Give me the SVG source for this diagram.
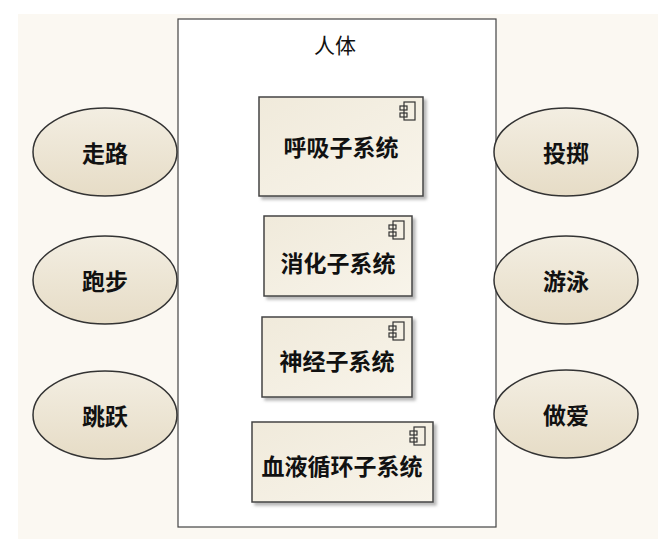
<svg xmlns="http://www.w3.org/2000/svg" width="667" height="547" viewBox="0 0 667 547">
<style>
.t{font-family:"Noto Sans CJK SC","Noto Sans",sans-serif;font-size:23px;font-weight:bold;fill:#111;text-anchor:middle;dominant-baseline:central}
.e{fill:url(#eg);stroke:#333;stroke-width:1.5}
.c{fill:url(#cg);stroke:#444;stroke-width:1.5;filter:url(#sh)}
.ic{fill:none;stroke:#333;stroke-width:1.2}
</style>
<defs>
<linearGradient id="eg" x1="0" y1="0" x2="0" y2="1"><stop offset="0" stop-color="#f3eee2"/><stop offset="1" stop-color="#e6dcc6"/></linearGradient>
<linearGradient id="cg" x1="0" y1="0" x2="1" y2="1"><stop offset="0" stop-color="#f0eadb"/><stop offset="1" stop-color="#f8f4ea"/></linearGradient>
<filter id="sh" x="-10%" y="-10%" width="130%" height="130%"><feDropShadow dx="3" dy="3" stdDeviation="1.5" flood-color="#888" flood-opacity="0.6"/></filter>
<g id="icon"><rect x="-8" y="-9" width="11" height="18" class="ic"/><rect x="-12" y="-5" width="7" height="4" class="ic" fill="#fff"/><rect x="-12" y="2" width="7" height="4" class="ic" fill="#fff"/></g>
</defs>
<rect width="667" height="547" fill="#fff"/>
<rect x="18" y="14" width="640" height="525" fill="#fbf8f2"/>
<g id="boundary"><rect x="178" y="19" width="318" height="508" fill="#fff" stroke="#444" stroke-width="1.2"/><text x="335" y="44" class="t" style="font-weight:normal;font-size:21px">人体</text></g>
<g id="c1"><rect x="259" y="97" width="164" height="99" class="c"/><use href="#icon" x="412" y="111"/><text x="341" y="146" class="t">呼吸子系统</text></g>
<g id="c2"><rect x="264" y="216" width="148" height="80" class="c"/><use href="#icon" x="401" y="230"/><text x="338" y="262" class="t">消化子系统</text></g>
<g id="c3"><rect x="262" y="317" width="150" height="80" class="c"/><use href="#icon" x="401" y="331"/><text x="337" y="360" class="t">神经子系统</text></g>
<g id="c4"><rect x="252" y="422" width="181" height="80" class="c"/><use href="#icon" x="422" y="436"/><text x="342" y="465" class="t">血液循环子系统</text></g>
<g id="u1"><ellipse cx="105" cy="152" rx="72" ry="44" class="e"/><text x="105" y="152" class="t">走路</text></g>
<g id="u2"><ellipse cx="105" cy="280" rx="72" ry="44" class="e"/><text x="105" y="280" class="t">跑步</text></g>
<g id="u3"><ellipse cx="105" cy="415" rx="72" ry="44" class="e"/><text x="105" y="415" class="t">跳跃</text></g>
<g id="u4"><ellipse cx="566" cy="152" rx="72" ry="44" class="e"/><text x="566" y="152" class="t">投掷</text></g>
<g id="u5"><ellipse cx="566" cy="280" rx="72" ry="44" class="e"/><text x="566" y="280" class="t">游泳</text></g>
<g id="u6"><ellipse cx="566" cy="414" rx="72" ry="44" class="e"/><text x="566" y="414" class="t">做爱</text></g>
<g id="connectors"/>
</svg>
